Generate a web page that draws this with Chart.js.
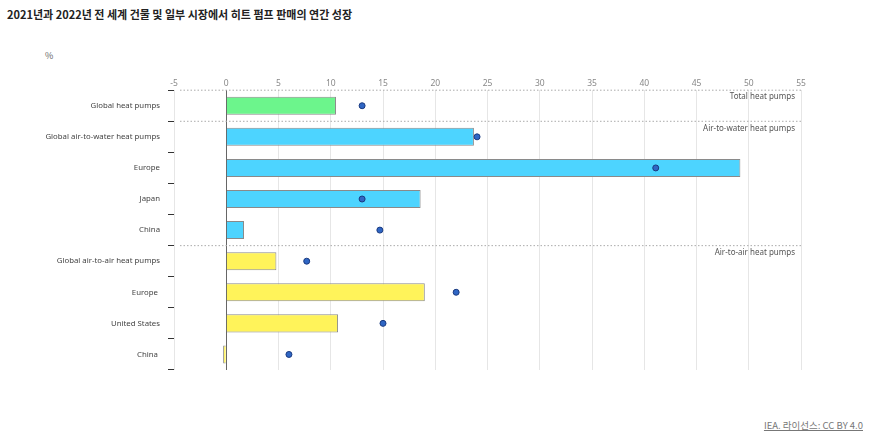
<!DOCTYPE html>
<html><head><meta charset="utf-8">
<script src="https://cdn.jsdelivr.net/npm/chart.js@4"></script>
<style>
body{margin:0;width:875px;height:436px;background:#fff;font-family:"Noto Sans CJK KR","Noto Sans",sans-serif;position:relative;overflow:hidden}
#t{position:absolute;left:7px;top:6px;font-size:11px;font-weight:bold;color:#222}
#p{position:absolute;left:45px;top:49px;font-size:9px;color:#666}
#f{position:absolute;right:12px;top:418px;font-size:9.5px;color:#777;text-decoration:underline}
#c{position:absolute;left:0;top:0}
</style></head><body>
<div id="t">2021년과 2022년 전 세계 건물 및 일부 시장에서 히트 펌프 판매의 연간 성장</div>
<div id="p">%</div>
<div id="f">IEA. 라이선스: CC BY 4.0</div>
<canvas id="c" width="875" height="436"></canvas>
<script>
const categories=["Global heat pumps","Global air-to-water heat pumps","Europe","Japan","China","Global air-to-air heat pumps","Europe ","United States","China "];
const barValues=[10.5,23.7,49.2,18.6,1.7,4.8,19.0,10.7,-0.3];
const dotValues=[13.0,24.0,41.1,13.0,14.7,7.7,22.0,15.0,6.0];
const barColors=["#6cf58c","#4dd4ff","#4dd4ff","#4dd4ff","#4dd4ff","#fff35a","#fff35a","#fff35a","#fff35a"];
const sections=[{start:0,label:"Total heat pumps"},{start:1,label:"Air-to-water heat pumps"},{start:5,label:"Air-to-air heat pumps"}];
const xTicks=[-5,0,5,10,15,20,25,30,35,40,45,50,55];
const sectionPlugin={id:"sec",afterDatasetsDraw(ch){
 const c=ch.ctx,y=ch.scales.y,a=ch.chartArea;
 c.save();
 sections.forEach(s=>{
  const yy=y.getPixelForValue(s.start)-(y.getPixelForValue(1)-y.getPixelForValue(0))/2;
  c.setLineDash([1.5,2]);c.strokeStyle="#aaa";c.lineWidth=1;
  c.beginPath();c.moveTo(a.left+6,yy);c.lineTo(a.right,yy);c.stroke();
  c.setLineDash([]);c.fillStyle="#555";c.font="8px 'Noto Sans'";c.textAlign="right";c.textBaseline="top";
  c.fillText(s.label,a.right-6,yy+3);
 });
 c.restore();
}};
new Chart(document.getElementById("c"),{
 type:"bar",
 data:{labels:categories,datasets:[
  {type:"line",data:dotValues,showLine:false,pointRadius:3,pointBackgroundColor:"#2f66c4",pointBorderColor:"#1a3a80",pointBorderWidth:1,order:0},
  {data:barValues,backgroundColor:barColors,borderColor:"#8a8a8a",borderWidth:1,barPercentage:0.58,categoryPercentage:1,order:1}
 ]},
 options:{indexAxis:"y",responsive:false,animation:false,
  layout:{padding:{left:0,right:74,top:76,bottom:66}},
  plugins:{legend:{display:false},tooltip:{enabled:false}},
  scales:{
   x:{position:"top",min:-5,max:55,afterBuildTicks(s){s.ticks=xTicks.map(v=>({value:v}));},
    ticks:{color:"#888",font:{size:8.5,family:"Noto Sans"},padding:2},
    grid:{drawTicks:false,color:c=>c.tick&&c.tick.value===0?"#666":"#e6e6e6",lineWidth:1},border:{display:false}},
   y:{afterFit(s){s.width=174;},ticks:{color:"#444",font:{size:7.8,family:"Noto Sans"},padding:8},
    grid:{offset:true,drawOnChartArea:false,tickLength:6,color:"#333"},border:{display:false}}
  }},
 plugins:[sectionPlugin]
});
</script></body></html>
